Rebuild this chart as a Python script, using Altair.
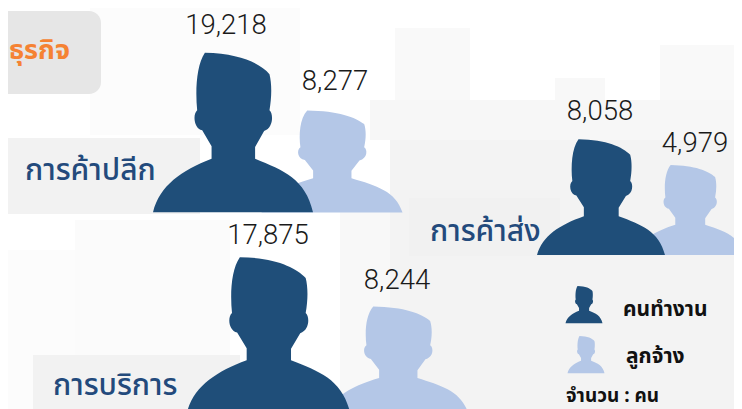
import altair as alt
import pandas as pd

# ---- data ----
sectors = ["การค้าปลีก", "การค้าส่ง", "การบริการ"]
workers = [19218, 8058, 17875]
employees = [8277, 4979, 8244]
legend_labels = ["คนทำงาน", "ลูกจ้าง"]
unit_label = "จำนวน : คน"
title_text = "ธุรกิจ"

# ---- layout (pixel space of the picture) ----
DARK, LIGHT = "#1f4e79", "#b4c7e7"
FONT = "Noto Sans Thai, Noto Sans, Open Sans, sans-serif"
NUMFONT = "Roboto"
X = alt.Scale(domain=[8, 734], range=[0, 726], nice=False, zero=False)
Y = alt.Scale(domain=[8, 409], reverse=True, nice=False, zero=False)
ex = alt.X("x:Q", scale=X, axis=None)
ey = alt.Y("y:Q", scale=Y, axis=None)

# silhouette outline, in a 3x zoom of the largest figure
seg = [
    ("M", [(615, 158)]),
    ("C", [(720, 160), (780, 190), (808, 222)]),
    ("C", [(815, 250), (815, 290), (808, 330)]),
    ("C", [(820, 340), (820, 382), (792, 392)]),
    ("L", [(765, 440)]), ("L", [(765, 475)]),
    ("C", [(850, 510), (915, 535), (938, 635)]),
    ("L", [(460, 635)]),
    ("C", [(480, 555), (545, 510), (635, 475)]),
    ("L", [(635, 438)]), ("L", [(607, 390)]),
    ("C", [(582, 385), (578, 342), (592, 330)]),
    ("C", [(586, 270), (590, 195), (615, 158)]),
]

def person(w, h):
    sy = (h / w) * (478 / 477)
    parts = []
    for cmd, pts in seg:
        s = " ".join(f"{(px-699)/239:.4f},{(py-396.5)/238.5*sy:.4f}" for px, py in pts)
        parts.append(f"{cmd}{s}")
    return " ".join(parts) + " Z"

def figure(cx, top, bottom, w, color):
    d = pd.DataFrame({"x": [cx], "y": [(top + bottom) / 2]})
    return alt.Chart(d).mark_point(
        shape=person(w, bottom - top), size=w * w, filled=True, fill=color, opacity=1, strokeWidth=0
    ).encode(x=ex, y=ey)

def box(x0, x1, y0, y1, color, radius=0):
    d = pd.DataFrame({"x": [x0], "x2": [x1], "y": [y0], "y2": [y1]})
    return alt.Chart(d).mark_rect(color=color, cornerRadius=radius).encode(
        x=ex, x2="x2:Q", y=ey, y2="y2:Q")

def label(txt, x, y, size, color, align="center", weight=400, font=FONT):
    d = pd.DataFrame({"x": [x], "y": [y], "t": [txt]})
    return alt.Chart(d).mark_text(fontSize=size, color=color, align=align, baseline="middle",
                                  fontWeight=weight, font=font).encode(x=ex, y=ey, text="t:N")

layers = [
    # faint skyline behind everything
    box(90, 300, 0, 135, "#fcfcfc"),
    box(395, 470, 28, 105, "#f9f9f9"),
    box(555, 605, 78, 110, "#f8f8f8"),
    box(660, 742, 45, 110, "#f9f9f9"),
    box(370, 742, 100, 140, "#f7f7f7"),
    box(390, 742, 140, 409, "#f3f3f3"),
    box(340, 390, 200, 409, "#f8f8f8"),
    box(75, 230, 220, 355, "#fbfbfb"),
    box(0, 75, 250, 409, "#fcfcfc"),
    box(-20, 101, 11, 94, "#e6e6e6", radius=12),
    box(5, 200, 138, 214, "#f2f2f2"),
    box(409, 560, 198, 256, "#f1f1f1"),
    box(33, 240, 355, 420, "#f2f2f2"),
    label(title_text, 70, 51, 27, "#f58233", "right", 700),
]

# employees drawn first, workers over them
emp_fig = [(332, 110.5, 212.5, 141), (690, 165, 255, 110), (398, 306.7, 414, 141)]
wrk_fig = [(233, 53, 212, 160), (601, 139.3, 255, 128), (268.5, 257.3, 412, 163)]
for f in emp_fig:
    layers.append(figure(*f, LIGHT))
for f in wrk_fig:
    layers.append(figure(*f, DARK))

sector_pos = [(25, 171), (430, 232), (53, 386)]
for s, (x, y) in zip(sectors, sector_pos):
    layers.append(label(s, x, y, 30, "#234a7c", "left", 500))

wrk_lab = [(226, 26), (600, 112), (268, 236)]
emp_lab = [(335, 82), (695, 144), (397, 281)]
for v, (x, y) in zip(workers + employees, wrk_lab + emp_lab):
    layers.append(label(f"{v:,}", x, y, 27.5, "#1a1a1a", weight=300, font=NUMFONT))

layers += [
    figure(584, 286, 323.3, 37, DARK),
    figure(586, 336, 373.3, 37, LIGHT),
    label(legend_labels[0], 623, 310, 21, "#111111", "left", 700),
    label(legend_labels[1], 626, 357, 21, "#111111", "left", 700),
    label(unit_label, 566, 396, 19, "#111111", "left", 700),
]

chart = alt.layer(*layers).properties(
    width=726, height=401, padding=0, autosize=alt.AutoSizeParams(type="none")
).configure_view(stroke=None)

chart.save("out.html", embed_options={"renderer": "svg", "actions": False})
